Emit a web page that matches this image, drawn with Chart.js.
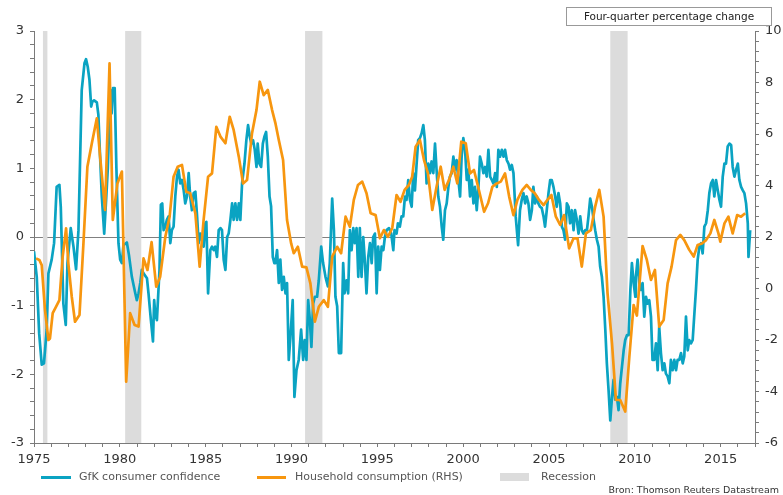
<!doctype html>
<html lang="en">
<head>
<meta charset="utf-8">
<title>GfK consumer confidence vs household consumption</title>
<script src="https://cdn.jsdelivr.net/npm/chart.js@4.4.4/dist/chart.umd.min.js"></script>
<style>
  body { margin: 0; background: #fff; font-family: "DejaVu Sans", sans-serif; }
  .wrap { position: relative; width: 783px; height: 495px; }
  canvas { position: absolute; left: 0; top: 0; }
  .unit { position: absolute; left: 566px; top: 7px; width: 204px; height: 17px;
          border: 1px solid #999; font-size: 10.5px;
          color: #222; text-align: center; line-height: 17px; white-space: nowrap; }
  .legend { position: absolute; top: 469px; left: 0; height: 16px; font-size: 11px; color: #555; }
  .legend span { position: absolute; white-space: nowrap; line-height: 16px; }
  .swatch { height: 3px; top: 7px; }
  .source { position: absolute; right: 4px; top: 484px; font-size: 9.5px; color: #333; white-space: nowrap; }
</style>
</head>
<body>
<div class="wrap">
  <canvas id="chart" width="783" height="495"></canvas>
  <div class="unit">Four-quarter percentage change</div>
  <div class="legend">
    <span class="swatch" style="left:41px;width:30px;background:#0aa3c2"></span>
    <span style="left:79px">GfK consumer confidence</span>
    <span class="swatch" style="left:257px;width:29px;background:#f7960f"></span>
    <span style="left:295px">Household consumption (RHS)</span>
    <span style="left:500px;top:4px;width:29px;height:8px;background:#dcdcdc"></span>
    <span style="left:541px">Recession</span>
  </div>
  <div class="source">Bron: Thomson Reuters Datastream</div>
</div>
<script>
// GfK consumer confidence (left axis), [year, index]
const gfkConfidence = [
  [1975.00, -0.21], [1975.16, -0.58], [1975.30, -1.40], [1975.45, -1.86], [1975.58, -1.84],
  [1975.74, -1.35], [1975.84, -0.53], [1976.03, -0.33], [1976.17, -0.09], [1976.32, 0.73],
  [1976.48, 0.76], [1976.56, 0.44], [1976.71, -0.97], [1976.85, -1.28], [1976.95, -0.38],
  [1977.14, 0.13], [1977.30, -0.14], [1977.45, -0.47], [1977.59, 0.10], [1977.78, 2.14],
  [1977.94, 2.53], [1978.03, 2.59], [1978.13, 2.48], [1978.23, 2.29], [1978.33, 1.90],
  [1978.40, 1.97], [1978.50, 1.99], [1978.66, 1.96], [1978.75, 1.78], [1978.85, 1.17],
  [1978.95, 0.59], [1979.09, 0.05], [1979.20, 0.54], [1979.30, 1.00], [1979.45, 2.14],
  [1979.52, 1.80], [1979.60, 2.17], [1979.70, 2.17], [1979.80, 1.00], [1979.92, -0.09],
  [1980.02, -0.33], [1980.12, -0.38], [1980.21, -0.12], [1980.41, -0.08], [1980.53, -0.26],
  [1980.70, -0.58], [1980.90, -0.82], [1980.99, -0.92], [1981.09, -0.82], [1981.19, -0.67],
  [1981.28, -0.48], [1981.38, -0.53], [1981.58, -0.60], [1981.67, -0.82], [1981.81, -1.21],
  [1981.93, -1.52], [1982.00, -0.92], [1982.06, -1.11], [1982.16, -1.21], [1982.31, -0.48],
  [1982.39, 0.47], [1982.47, 0.49], [1982.55, 0.10], [1982.65, 0.15], [1982.74, 0.25],
  [1982.84, 0.30], [1982.94, -0.09], [1983.03, 0.10], [1983.13, 0.15], [1983.23, 0.59],
  [1983.33, 0.88], [1983.42, 0.98], [1983.52, 0.78], [1983.62, 0.83], [1983.72, 0.68],
  [1983.81, 0.49], [1983.91, 0.59], [1984.01, 0.93], [1984.10, 0.59], [1984.20, 0.39],
  [1984.30, 0.64], [1984.40, 0.66], [1984.50, 0.30], [1984.59, -0.09], [1984.69, 0.05],
  [1984.88, -0.14], [1984.98, 0.20], [1985.04, 0.22], [1985.14, -0.82], [1985.27, -0.19],
  [1985.37, -0.14], [1985.47, -0.19], [1985.56, -0.14], [1985.66, -0.29], [1985.76, 0.10],
  [1985.86, 0.13], [1985.95, 0.10], [1986.05, -0.33], [1986.15, -0.48], [1986.25, 0.00],
  [1986.34, 0.05], [1986.44, 0.25], [1986.54, 0.49], [1986.63, 0.25], [1986.73, 0.49],
  [1986.83, 0.25], [1986.93, 0.49], [1987.02, 0.25], [1987.12, 0.78], [1987.26, 1.07],
  [1987.37, 1.41], [1987.47, 1.63], [1987.57, 1.46], [1987.66, 1.36], [1987.76, 1.41],
  [1987.86, 1.27], [1987.96, 1.02], [1988.03, 1.36], [1988.13, 1.07], [1988.23, 1.02],
  [1988.33, 1.36], [1988.42, 1.46], [1988.52, 1.53], [1988.62, 1.17], [1988.72, 0.59],
  [1988.81, 0.45], [1988.91, -0.29], [1989.00, -0.38], [1989.06, -0.38], [1989.16, -0.19],
  [1989.26, -0.67], [1989.35, -0.33], [1989.45, -0.77], [1989.55, -0.58], [1989.65, -0.82],
  [1989.74, -0.67], [1989.84, -1.79], [1989.94, -1.45], [1990.07, -0.92], [1990.17, -2.33],
  [1990.29, -1.94], [1990.42, -1.79], [1990.56, -1.35], [1990.68, -1.79], [1990.77, -1.50],
  [1990.87, -1.79], [1990.97, -0.92], [1991.07, -1.21], [1991.16, -1.60], [1991.26, -0.97],
  [1991.36, -0.87], [1991.49, -0.87], [1991.59, -0.63], [1991.73, -0.14], [1991.84, -0.38],
  [1991.98, -0.58], [1992.12, -0.72], [1992.23, -0.38], [1992.37, 0.56], [1992.47, 0.10],
  [1992.56, -0.87], [1992.66, -1.01], [1992.76, -1.69], [1992.89, -1.69], [1993.01, -0.38],
  [1993.09, -0.82], [1993.21, -0.63], [1993.30, -0.82], [1993.40, 0.10], [1993.50, -0.19],
  [1993.60, 0.13], [1993.69, -0.09], [1993.79, 0.13], [1993.89, -0.58], [1993.98, 0.13],
  [1994.08, -0.58], [1994.18, 0.00], [1994.28, -0.38], [1994.37, -0.82], [1994.47, -0.29],
  [1994.57, -0.09], [1994.67, -0.38], [1994.76, 0.00], [1994.86, 0.05], [1994.96, -0.82],
  [1995.05, -0.14], [1995.15, -0.48], [1995.25, -0.14], [1995.35, -0.19], [1995.44, 0.00],
  [1995.54, 0.10], [1995.68, 0.13], [1995.81, 0.05], [1995.93, -0.19], [1996.00, 0.10],
  [1996.12, 0.05], [1996.20, 0.20], [1996.31, 0.15], [1996.41, 0.30], [1996.51, 0.30],
  [1996.61, 0.59], [1996.70, 0.54], [1996.80, 0.83], [1996.90, 0.54], [1997.00, 0.44],
  [1997.09, 0.93], [1997.19, 0.68], [1997.29, 1.07], [1997.38, 1.41], [1997.48, 1.44],
  [1997.58, 1.51], [1997.68, 1.63], [1997.77, 1.41], [1997.87, 0.78], [1997.97, 1.07],
  [1998.07, 0.93], [1998.16, 1.10], [1998.26, 0.93], [1998.36, 1.36], [1998.45, 0.98],
  [1998.55, 0.59], [1998.65, 0.44], [1998.75, 0.15], [1998.84, -0.04], [1998.94, 0.39],
  [1999.04, 0.49], [1999.14, 0.73], [1999.23, 0.88], [1999.33, 0.93], [1999.43, 1.17],
  [1999.52, 0.98], [1999.62, 1.12], [1999.72, 0.83], [1999.82, 0.59], [1999.91, 1.17],
  [2000.01, 1.44], [2000.11, 1.27], [2000.21, 0.83], [2000.30, 0.98], [2000.40, 0.59],
  [2000.50, 0.83], [2000.60, 0.49], [2000.69, 0.73], [2000.79, 0.39], [2000.89, 0.73],
  [2000.98, 1.17], [2001.08, 1.07], [2001.18, 0.93], [2001.28, 1.02], [2001.37, 0.88],
  [2001.47, 1.27], [2001.57, 0.88], [2001.67, 0.83], [2001.76, 0.78], [2001.86, 0.93],
  [2001.96, 0.73], [2002.05, 1.27], [2002.15, 1.17], [2002.25, 1.27], [2002.35, 1.17],
  [2002.44, 1.27], [2002.54, 1.12], [2002.64, 1.07], [2002.73, 0.98], [2002.83, 1.05],
  [2002.93, 0.93], [2003.06, 0.30], [2003.20, -0.12], [2003.31, 0.39], [2003.41, 0.54],
  [2003.51, 0.64], [2003.61, 0.49], [2003.70, 0.59], [2003.80, 0.49], [2003.90, 0.25],
  [2004.00, 0.39], [2004.09, 0.73], [2004.19, 0.49], [2004.29, 0.59], [2004.38, 0.49],
  [2004.48, 0.44], [2004.58, 0.42], [2004.68, 0.30], [2004.77, 0.15], [2004.87, 0.39],
  [2004.97, 0.64], [2005.07, 0.83], [2005.16, 0.83], [2005.26, 0.73], [2005.36, 0.59],
  [2005.45, 0.44], [2005.55, 0.64], [2005.65, 0.49], [2005.75, 0.15], [2005.84, 0.10],
  [2005.94, -0.04], [2006.04, 0.49], [2006.14, 0.44], [2006.23, 0.20], [2006.33, 0.39],
  [2006.43, 0.10], [2006.52, 0.39], [2006.62, 0.25], [2006.72, 0.05], [2006.82, 0.30],
  [2006.91, 0.10], [2007.01, 0.05], [2007.11, 0.10], [2007.21, 0.10], [2007.30, 0.30],
  [2007.40, 0.56], [2007.50, 0.44], [2007.60, 0.25], [2007.69, 0.10], [2007.79, -0.04],
  [2007.89, -0.14], [2007.98, -0.43], [2008.08, -0.58], [2008.18, -0.87], [2008.28, -1.35],
  [2008.37, -1.84], [2008.47, -2.23], [2008.57, -2.67], [2008.67, -2.33], [2008.76, -2.08],
  [2008.86, -2.37], [2008.96, -2.33], [2009.05, -2.52], [2009.15, -2.13], [2009.25, -1.89],
  [2009.35, -1.65], [2009.44, -1.50], [2009.54, -1.43], [2009.64, -1.43], [2009.74, -0.77],
  [2009.83, -0.38], [2009.93, -0.67], [2010.03, -0.87], [2010.06, -0.58], [2010.16, -0.33],
  [2010.26, -0.67], [2010.35, -0.77], [2010.45, -0.67], [2010.55, -1.16], [2010.65, -0.87],
  [2010.74, -0.97], [2010.84, -0.92], [2010.94, -1.16], [2011.03, -1.79], [2011.13, -1.79],
  [2011.23, -1.55], [2011.33, -1.94], [2011.42, -1.31], [2011.52, -1.69], [2011.62, -1.94],
  [2011.72, -1.84], [2011.81, -1.99], [2011.91, -2.03], [2012.01, -2.13], [2012.10, -1.79],
  [2012.20, -1.94], [2012.30, -1.79], [2012.40, -1.94], [2012.49, -1.79], [2012.59, -1.79],
  [2012.69, -1.69], [2012.79, -1.84], [2012.88, -1.74], [2012.98, -1.16], [2013.08, -1.65],
  [2013.17, -1.50], [2013.27, -1.55], [2013.37, -1.50], [2013.47, -1.11], [2013.56, -0.77],
  [2013.66, -0.33], [2013.76, -0.14], [2013.86, -0.09], [2013.95, -0.24], [2014.05, 0.15],
  [2014.15, 0.20], [2014.25, 0.39], [2014.34, 0.64], [2014.44, 0.78], [2014.54, 0.83],
  [2014.63, 0.59], [2014.73, 0.83], [2014.83, 0.68], [2014.93, 0.54], [2015.02, 0.44],
  [2015.12, 0.88], [2015.22, 1.07], [2015.31, 1.07], [2015.41, 1.32], [2015.51, 1.36],
  [2015.61, 1.34], [2015.70, 1.02], [2015.80, 0.88], [2015.90, 0.98], [2016.00, 1.07],
  [2016.09, 0.83], [2016.19, 0.73], [2016.29, 0.68], [2016.38, 0.64], [2016.48, 0.49],
  [2016.58, 0.20], [2016.62, -0.29], [2016.72, 0.10]
];

// Household consumption, four-quarter % change (right axis), [year, pct]
const householdConsumption = [
  [1975.12, 1.17], [1975.31, 1.11], [1975.45, 0.91], [1975.64, -0.83], [1975.84, -2.00],
  [1975.93, -1.94], [1976.09, -0.96], [1976.28, -0.71], [1976.48, -0.45], [1976.67, 1.24],
  [1976.87, 2.34], [1977.00, 0.98], [1977.20, -0.32], [1977.39, -1.29], [1977.65, -1.03],
  [1977.88, 1.75], [1978.11, 4.73], [1978.37, 5.64], [1978.66, 6.61], [1978.85, 5.12],
  [1979.14, 3.05], [1979.40, 8.74], [1979.59, 2.66], [1979.86, 4.08], [1980.12, 4.54],
  [1980.37, -3.62], [1980.60, -0.96], [1980.86, -1.42], [1981.09, -1.48], [1981.38, 1.17],
  [1981.61, 0.72], [1981.85, 1.80], [1982.12, 0.07], [1982.35, 0.46], [1982.65, 2.01],
  [1982.90, 2.79], [1983.13, 4.34], [1983.37, 4.73], [1983.62, 4.80], [1983.87, 3.76],
  [1984.10, 3.70], [1984.40, 2.92], [1984.65, 0.85], [1984.88, 2.66], [1985.14, 4.34],
  [1985.37, 4.47], [1985.62, 6.28], [1985.86, 5.90], [1986.15, 5.64], [1986.40, 6.67],
  [1986.63, 6.16], [1986.93, 5.12], [1987.18, 4.08], [1987.41, 4.21], [1987.70, 6.03],
  [1987.96, 6.93], [1988.15, 8.03], [1988.38, 7.51], [1988.62, 7.71], [1988.87, 6.93],
  [1989.07, 6.40], [1989.26, 5.77], [1989.51, 4.99], [1989.74, 2.66], [1989.98, 1.75],
  [1990.13, 1.37], [1990.37, 1.62], [1990.62, 0.85], [1990.87, 0.82], [1991.10, 0.20],
  [1991.36, -1.29], [1991.59, -0.71], [1991.88, -0.45], [1992.12, -0.71], [1992.37, 1.24],
  [1992.66, 1.62], [1992.89, 1.37], [1993.15, 2.79], [1993.40, 2.40], [1993.63, 3.44],
  [1993.87, 4.02], [1994.12, 4.15], [1994.37, 3.70], [1994.61, 2.92], [1994.90, 2.85],
  [1995.15, 1.95], [1995.38, 2.27], [1995.62, 2.01], [1995.87, 2.35], [1996.12, 3.63],
  [1996.35, 3.37], [1996.59, 3.83], [1996.84, 4.02], [1997.03, 4.34], [1997.23, 5.51],
  [1997.48, 5.77], [1997.72, 4.99], [1997.95, 4.47], [1998.20, 3.05], [1998.45, 3.95],
  [1998.69, 4.73], [1998.92, 3.83], [1999.17, 4.21], [1999.43, 4.73], [1999.66, 4.08],
  [1999.89, 5.70], [2000.15, 5.64], [2000.40, 4.47], [2000.63, 4.60], [2000.87, 3.95],
  [2001.22, 2.98], [2001.45, 3.31], [2001.70, 3.95], [2001.96, 4.08], [2002.19, 4.15],
  [2002.44, 4.47], [2002.68, 3.57], [2002.93, 2.85], [2003.16, 3.44], [2003.45, 3.83],
  [2003.70, 4.02], [2003.94, 3.83], [2004.17, 3.70], [2004.42, 3.44], [2004.68, 3.24],
  [2004.91, 3.44], [2005.14, 3.63], [2005.40, 2.79], [2005.65, 2.47], [2005.88, 2.85],
  [2006.17, 1.56], [2006.43, 1.95], [2006.66, 1.95], [2006.91, 0.85], [2007.15, 2.14],
  [2007.44, 2.27], [2007.69, 3.18], [2007.93, 3.83], [2008.18, 2.79], [2008.41, -0.19],
  [2008.67, -2.13], [2008.90, -4.33], [2009.15, -4.33], [2009.44, -4.78], [2009.68, -2.65],
  [2009.93, -0.64], [2010.12, -1.05], [2010.45, 1.65], [2010.70, 1.11], [2010.94, 0.33],
  [2011.17, 0.72], [2011.42, -1.48], [2011.68, -1.22], [2011.91, 0.20], [2012.14, 0.85],
  [2012.40, 1.88], [2012.65, 2.08], [2012.88, 1.88], [2013.17, 1.50], [2013.43, 1.24],
  [2013.66, 1.69], [2013.91, 1.75], [2014.15, 1.88], [2014.40, 2.14], [2014.63, 2.66],
  [2014.87, 2.14], [2014.98, 1.82], [2015.22, 2.53], [2015.45, 2.79], [2015.70, 2.14],
  [2015.96, 2.85], [2016.19, 2.79], [2016.43, 2.92]
];

// Recession periods, [start, end] in years
const recessions = [[1975.52, 1975.78], [1980.31, 1981.25], [1990.79, 1991.8], [2008.57, 2009.58]];

const X_MIN = 1975, X_MAX = 2017;
const BLUE = "#0aa3c2";
const ORANGE = "#f7960f";
const AXIS = "#7a7a7a";
const tickFont = { family: "DejaVu Sans", size: 13 };

const near = (v, n) => Math.abs(v - Math.round(v / n) * n) < 1e-6;

// grey bands behind the lines, positioned through the x scale
const recessionBands = {
  id: "recessionBands",
  beforeDatasetsDraw(chart) {
    const { ctx, chartArea, scales } = chart;
    ctx.save();
    ctx.fillStyle = "#dcdcdc";
    for (const [a, b] of recessions) {
      const x0 = scales.x.getPixelForValue(a);
      const x1 = scales.x.getPixelForValue(b);
      ctx.fillRect(x0, chartArea.top, x1 - x0, chartArea.bottom - chartArea.top);
    }
    ctx.restore();
  },
};

new Chart(document.getElementById("chart"), {
  type: "line",
  data: {
    datasets: [
      {
        label: "Household consumption (RHS)",
        data: householdConsumption.map(([x, y]) => ({ x, y })),
        borderColor: ORANGE, borderWidth: 2.7, pointRadius: 0, tension: 0,
        borderJoinStyle: "round", yAxisID: "y1",
      },
      {
        label: "GfK consumer confidence",
        data: gfkConfidence.map(([x, y]) => ({ x, y })),
        borderColor: BLUE, borderWidth: 2.7, pointRadius: 0, tension: 0,
        borderJoinStyle: "round", yAxisID: "y",
      },
    ],
  },
  options: {
    responsive: false,
    animation: false,
    layout: { padding: { top: 31, left: 0, right: 0, bottom: 0 } },
    plugins: { legend: { display: false }, tooltip: { enabled: false } },
    scales: {
      x: {
        type: "linear", min: X_MIN, max: X_MAX,
        afterFit: (s) => { s.height = 52; },
        border: { color: AXIS },
        grid: { drawOnChartArea: false, tickLength: 4, tickColor: AXIS },
        ticks: {
          stepSize: 1, autoSkip: false, maxRotation: 0, padding: 5,
          font: tickFont, color: "#333",
          callback: (v) => (near(v, 5) ? String(Math.round(v)) : ""),
        },
      },
      y: {
        position: "left", min: -3, max: 3,
        afterFit: (s) => { s.width = 34; },
        border: { color: AXIS },
        grid: {
          tickLength: 4, tickColor: AXIS, lineWidth: 1,
          color: (c) => (c.tick && Math.abs(c.tick.value) < 1e-6 ? "#808080" : "rgba(0,0,0,0)"),
        },
        ticks: {
          stepSize: 0.2, autoSkip: false, padding: 6,
          font: tickFont, color: "#333",
          callback: (v) => (near(v, 1) ? String(Math.round(v)) : ""),
        },
      },
      y1: {
        position: "right", min: -6, max: 10,
        afterFit: (s) => { s.width = 28; },
        border: { color: AXIS },
        grid: { drawOnChartArea: false, tickLength: 4, tickColor: AXIS },
        ticks: {
          stepSize: 0.4, autoSkip: false, padding: 6,
          font: tickFont, color: "#333",
          callback: (v) => (near(v, 2) ? String(Math.round(v)) : ""),
        },
      },
    },
  },
  plugins: [recessionBands],
});
</script>
</body>
</html>
